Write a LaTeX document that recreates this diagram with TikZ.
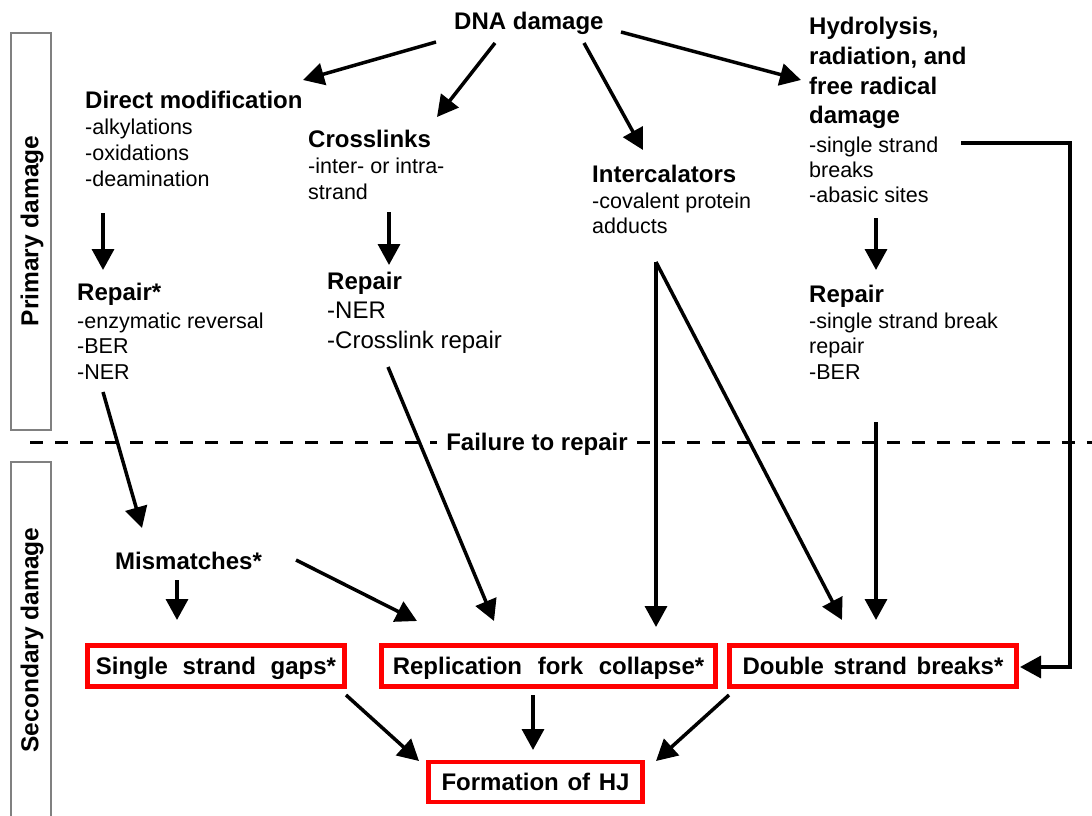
\documentclass[tikz,border=0pt]{standalone}
\usepackage{fontspec}
\setmainfont{Liberation Sans}
\usetikzlibrary{arrows.meta}
\begin{document}
\begin{tikzpicture}[x=1pt,y=-1pt,
  txt/.style={anchor=base west,inner sep=0pt,font=\fontsize{21.5}{26}\selectfont},
  hd/.style={anchor=base west,inner sep=0pt,font=\bfseries\fontsize{24}{28}\selectfont},
  big/.style={anchor=base west,inner sep=0pt,font=\fontsize{24}{28}\selectfont},
  arr/.style={line width=3.5pt,-{Triangle[length=21pt,width=22pt]}},
  redbox/.style={draw=red,line width=4.5pt,inner sep=0pt,text height=17pt,text depth=0pt,minimum height=41pt,font=\bfseries\fontsize{24}{28}\selectfont},
  sidebox/.style={draw=gray,line width=1.2pt},
  sidelabel/.style={rotate=90,inner sep=0pt,font=\bfseries\fontsize{24.5}{28}\selectfont},
  failline/.style={line width=3pt,dash pattern=on 13pt off 12pt}]
\useasboundingbox (0,0) rectangle (1092,816);

% side boxes
\draw[sidebox] (11,33) rectangle (51,430);
\draw[sidebox] (11,462) rectangle (51,840);
\node[sidelabel] (prim) at (32,231) {Primary damage};
\node[sidelabel] (sec) at (32,640) {Secondary damage};

% top
\node[hd] (dna) at (454,30) {DNA damage};

\node[hd] (dm) at (85,108) {Direct modification};
\node[txt] (dm1) at (85,134) {-alkylations};
\node[txt] (dm2) at (85,160) {-oxidations};
\node[txt] (dm3) at (85,186) {-deamination};

\node[hd] (cl) at (308,147) {Crosslinks};
\node[txt] (cl1) at (308,173) {-inter- or intra-};
\node[txt] (cl2) at (308,199) {strand};

\node[hd] (ic) at (592,182) {Intercalators};
\node[txt] (ic1) at (592,208) {-covalent protein};
\node[txt] (ic2) at (592,233) {adducts};

\node[hd] (hy) at (809,35) {Hydrolysis,};
\node[hd] (hy1) at (809,64) {radiation, and};
\node[hd] (hy2) at (809,94) {free radical};
\node[hd] (hy3) at (809,123) {damage};
\node[txt] (hy4) at (809,152) {-single strand};
\node[txt] (hy5) at (809,177) {breaks};
\node[txt] (hy6) at (809,202) {-abasic sites};

\node[hd] (r1) at (77,300) {Repair*};
\node[txt] (r1a) at (77,328) {-enzymatic reversal};
\node[txt] (r1b) at (77,353) {-BER};
\node[txt] (r1c) at (77,379) {-NER};

\node[hd] (r2) at (327,289) {Repair};
\node[big] (r2a) at (327,318) {-NER};
\node[big] (r2b) at (327,348) {-Crosslink repair};

\node[hd] (r3) at (809,302) {Repair};
\node[txt] (r3a) at (809,328) {-single strand break};
\node[txt] (r3b) at (809,353) {repair};
\node[txt] (r3c) at (809,379) {-BER};

% failure line
\node[hd,anchor=center,text height=17pt,text depth=0pt,inner xsep=9pt] (fail) at (537,442) {Failure to repair};
\draw[failline] (30,442) -- (fail.west);
\draw[failline] (fail.east) -- (1092,442);

% secondary
\node[hd] (mm) at (115,569) {Mismatches*};
\node[redbox,minimum width=257pt] (ssg) at (216,666) {Single\hspace{8pt} strand\hspace{8pt} gaps*};
\node[redbox,minimum width=334pt] (rfc) at (548.5,666) {Replication\hspace{9pt} fork\hspace{9pt} collapse*};
\node[redbox,minimum width=287pt] (dsb) at (873,666) {Double\hspace{3pt} strand\hspace{3pt} breaks*};
\node[redbox,minimum width=214pt,minimum height=40pt] (hj) at (535.5,782) {Formation\hspace{2pt} of\hspace{2pt} HJ};

% connector coordinates
\coordinate (a1s) at (436,42);  \coordinate (a1e) at (303,80);
\coordinate (a2s) at (495,43);  \coordinate (a2e) at (437,117);
\coordinate (a3s) at (584,43);  \coordinate (a3e) at (643,150);
\coordinate (a4s) at (621,32);  \coordinate (a4e) at (801,80);
\coordinate (d1s) at (103,213); \coordinate (d1e) at (103,270);
\coordinate (d2s) at (389,212); \coordinate (d2e) at (389,265);
\coordinate (d3s) at (876,218); \coordinate (d3e) at (876,270);
\coordinate (m1s) at (103,392); \coordinate (m1e) at (142,528);
\coordinate (c1s) at (388,367); \coordinate (c1e) at (494,621);
\coordinate (i0)  at (656,262);
\coordinate (i1e) at (656,627); \coordinate (i2e) at (842,620);
\coordinate (h1s) at (876,422); \coordinate (h1e) at (876,620);
\coordinate (h2s) at (961,143); \coordinate (h2a) at (1070,143);
\coordinate (h2b) at (1070,667); \coordinate (h2e) at (1020,667);
\coordinate (mm1s) at (177,580); \coordinate (mm1e) at (177,620);
\coordinate (mm2s) at (296,560); \coordinate (mm2e) at (417,621);
\coordinate (f1s) at (346,695); \coordinate (f1e) at (419,761);
\coordinate (f2s) at (533,695); \coordinate (f2e) at (533,750);
\coordinate (f3s) at (729,695); \coordinate (f3e) at (656,761);

\draw[arr] (a1s) -- (a1e);
\draw[arr] (a2s) -- (a2e);
\draw[arr] (a3s) -- (a3e);
\draw[arr] (a4s) -- (a4e);
\draw[arr] (d1s) -- (d1e);
\draw[arr] (d2s) -- (d2e);
\draw[arr] (d3s) -- (d3e);
\draw[arr] (m1s) -- (m1e);
\draw[arr] (c1s) -- (c1e);
\draw[arr] (i0) -- (i1e);
\draw[arr] (i0) -- (i2e);
\draw[arr] (h1s) -- (h1e);
\draw[arr,line join=miter] (h2s) -- (h2a) -- (h2b) -- (h2e);
\draw[arr] (mm1s) -- (mm1e);
\draw[arr] (mm2s) -- (mm2e);
\draw[arr] (f1s) -- (f1e);
\draw[arr] (f2s) -- (f2e);
\draw[arr] (f3s) -- (f3e);
\end{tikzpicture}
\end{document}
